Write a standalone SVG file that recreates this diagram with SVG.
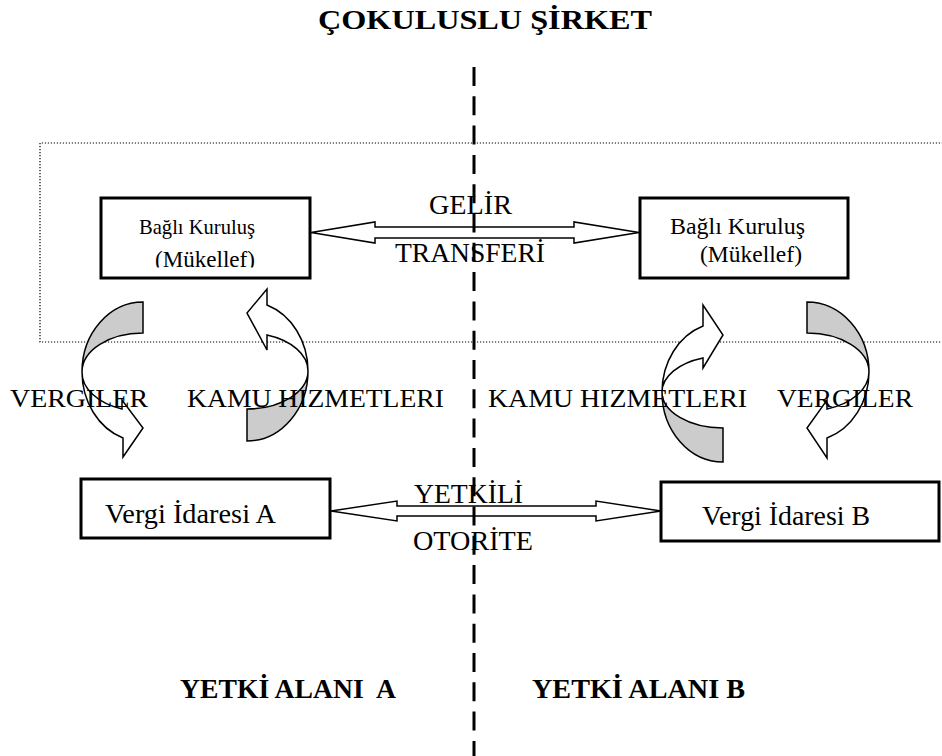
<svg xmlns="http://www.w3.org/2000/svg" width="942" height="756" viewBox="0 0 942 756">
  <defs>
    <style>
      .t { font-family: "Liberation Serif", "Times New Roman", serif; fill: #000; }
      .b { font-weight: bold; }
      .box { fill: #fff; stroke: #000; stroke-width: 3; }
      .arr { fill: #fff; stroke: #000; stroke-width: 1.5; stroke-linejoin: miter; }
      .gray { fill: #cccccc; stroke: #000; stroke-width: 1.5; }
      .dot { fill: none; stroke: #000; stroke-width: 1.2; stroke-dasharray: 1.2 1.8; }
      .dash { fill: none; stroke: #000; stroke-width: 3; stroke-dasharray: 19 10.3; }
    </style>
    <clipPath id="clipL">
      <rect x="100" y="197" width="210" height="70.5"/>
    </clipPath>
  </defs>
  <rect width="942" height="756" fill="#fff"/>

  <g id="title">
    <text class="t b" x="318" y="29" font-size="28" textLength="334" lengthAdjust="spacingAndGlyphs">ÇOKULUSLU ŞİRKET</text>
  </g>

  <g id="boundary">
    <path class="dot" d="M943,143 L40,143 L40,342 L943,342"/>
  </g>

  <g id="subsidiary-a">
    <rect class="box" x="101" y="198" width="209" height="80"/>
    <text class="t" x="139" y="234" font-size="21" textLength="116" lengthAdjust="spacingAndGlyphs">Bağlı Kuruluş</text>
    <text class="t" x="155" y="267" font-size="23" textLength="100" lengthAdjust="spacingAndGlyphs" clip-path="url(#clipL)">(Mükellef)</text>
  </g>

  <g id="subsidiary-b">
    <rect class="box" x="640" y="198" width="208" height="80"/>
    <text class="t" x="670" y="234" font-size="23" textLength="135" lengthAdjust="spacingAndGlyphs">Bağlı Kuruluş</text>
    <text class="t" x="700" y="262" font-size="23" textLength="102" lengthAdjust="spacingAndGlyphs">(Mükellef)</text>
  </g>

  <g id="tax-admin-a">
    <rect class="box" x="81" y="479" width="249" height="59"/>
    <text class="t" x="105" y="523" font-size="27" textLength="171" lengthAdjust="spacingAndGlyphs">Vergi İdaresi A</text>
  </g>

  <g id="tax-admin-b">
    <rect class="box" x="661" y="482" width="278" height="59"/>
    <text class="t" x="702" y="525" font-size="27" textLength="168" lengthAdjust="spacingAndGlyphs">Vergi İdaresi B</text>
  </g>

  <g id="connectors">
    <path id="income-transfer" class="arr" d="M311,232.5 L375,222 L375,227 L574,227 L574,222 L639,232.5 L574,243 L574,238 L375,238 L375,243 Z"/>
    <path id="competent-authority" class="arr" d="M331,511 L397,501 L397,506 L596,506 L596,501 L661,511 L596,521 L596,516 L397,516 L397,521 Z"/>

    <g id="taxes-a">
      <path class="gray" d="M143,302 A61,70 0 0 0 82,372 A61,39 0 0 1 143,333 Z"/>
      <path class="arr" d="M82,372 A61,70 0 0 0 123,438 L123,457 L143,428 L122,400 L122,409 A61,39 0 0 1 82,372 Z"/>
    </g>
    <g id="services-a">
      <path class="gray" d="M247,441 A61,70 0 0 0 308,371 A61,38 0 0 1 247,409 Z"/>
      <path class="arr" d="M308,371 A61,70 0 0 0 267,305 L267,289 L247,313 L267,350 L267,335 A61,38 0 0 1 308,371 Z"/>
    </g>
    <g id="services-b">
      <path class="gray" d="M723,462 A61,70 0 0 1 662,392 A61,36 0 0 0 723,428 Z"/>
      <path class="arr" d="M662,392 A61,70 0 0 1 703,326 L703,305 L723,335 L703,368 L703,358 A61,36 0 0 0 662,392 Z"/>
    </g>
    <g id="taxes-b">
      <path class="gray" d="M807,302 A62,70 0 0 1 869,372 A62,39 0 0 0 807,333 Z"/>
      <path class="arr" d="M869,372 A62,70 0 0 1 827,438 L827,458 L807,428 L827,400 L827,409 A62,39 0 0 0 869,372 Z"/>
    </g>
  </g>

  <g id="labels">
    <text class="t" x="429" y="214" font-size="27" textLength="83" lengthAdjust="spacingAndGlyphs">GELİR</text>
    <text class="t" x="395" y="262" font-size="27" textLength="150" lengthAdjust="spacingAndGlyphs">TRANSFERİ</text>
    <text class="t" x="414" y="503" font-size="27" textLength="109" lengthAdjust="spacingAndGlyphs">YETKİLİ</text>
    <text class="t" x="413" y="550" font-size="27" textLength="120" lengthAdjust="spacingAndGlyphs">OTORİTE</text>
    <text class="t" x="10" y="407" font-size="26" textLength="138" lengthAdjust="spacingAndGlyphs">VERGILER</text>
    <text class="t" x="187" y="407" font-size="26" textLength="257" lengthAdjust="spacingAndGlyphs">KAMU HIZMETLERI</text>
    <text class="t" x="488" y="407" font-size="26" textLength="259" lengthAdjust="spacingAndGlyphs">KAMU HIZMETLERI</text>
    <text class="t" x="777" y="407" font-size="26" textLength="136" lengthAdjust="spacingAndGlyphs">VERGILER</text>
  </g>

  <g id="jurisdictions">
    <text class="t b" x="180" y="698" font-size="28" textLength="216" lengthAdjust="spacingAndGlyphs" xml:space="preserve">YETKİ ALANI  A</text>
    <text class="t b" x="532" y="698" font-size="28" textLength="213" lengthAdjust="spacingAndGlyphs">YETKİ ALANI B</text>
  </g>

  <g id="divider">
    <line class="dash" x1="474" y1="67" x2="474" y2="756"/>
  </g>
</svg>
